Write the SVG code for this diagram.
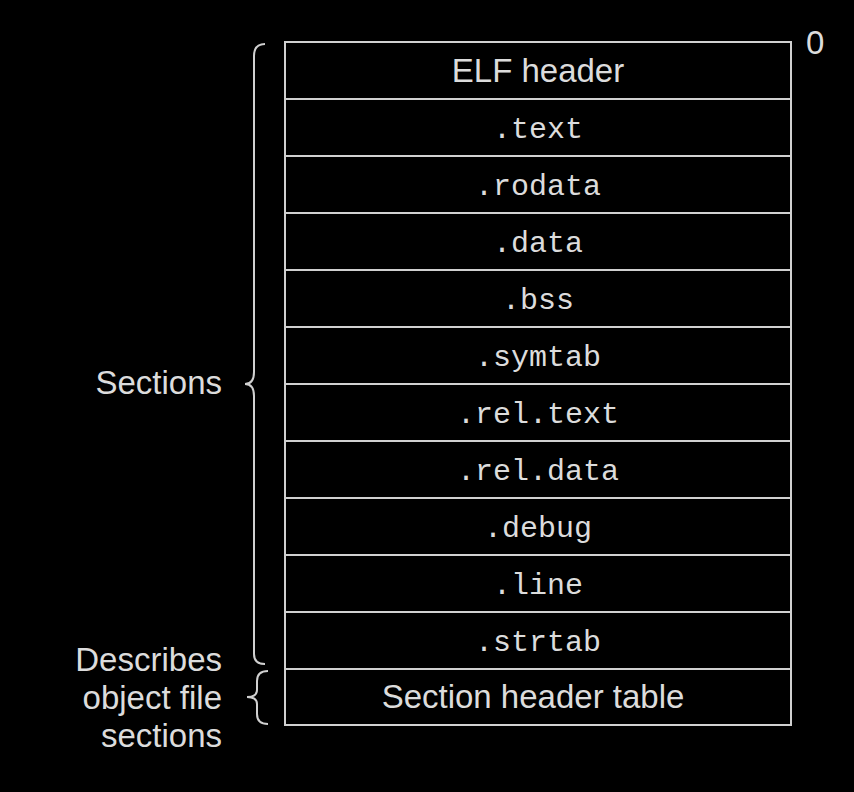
<svg xmlns="http://www.w3.org/2000/svg" width="854" height="792" viewBox="0 0 854 792">
<style>
.c{fill:none;stroke:#d0d0d0;stroke-width:2}
.m{font-family:"Liberation Mono",monospace;font-size:30px;fill:#dcdcdc;text-anchor:middle}
.s{font-family:"Liberation Sans",Arial,sans-serif;font-size:33px;fill:#dcdcdc}
</style>
<rect width="854" height="792" fill="#000"/>
<g id="table">
<rect class="c" x="285" y="42" width="506" height="683"/>
<path class="c" d="M285 99H791M285 156H791M285 213H791M285 270H791M285 327H791M285 384H791M285 441H791M285 498H791M285 555H791M285 612H791M285 669H791"/>
<text class="s" x="538" y="82" text-anchor="middle">ELF header</text>
<text class="m" x="538" y="138">.text</text>
<text class="m" x="538" y="195">.rodata</text>
<text class="m" x="538" y="252">.data</text>
<text class="m" x="538" y="309">.bss</text>
<text class="m" x="538" y="366">.symtab</text>
<text class="m" x="538" y="423">.rel.text</text>
<text class="m" x="538" y="480">.rel.data</text>
<text class="m" x="538" y="537">.debug</text>
<text class="m" x="538" y="594">.line</text>
<text class="m" x="538" y="651">.strtab</text>
<text class="s" x="533" y="708" text-anchor="middle">Section header table</text>
<text class="s" x="806" y="54">0</text>
</g>
<g id="braces">
<path class="c" d="M265 44Q254 44 254 56V372Q254 384 245 384Q254 384 254 396V654Q254 664 265 664"/>
<path class="c" d="M268 671Q257 671 257 681V690Q257 697 247 697Q257 697 257 704V714Q257 724 268 724"/>
</g>
<g id="labels">
<text class="s" x="222" y="394" text-anchor="end">Sections</text>
<text class="s" x="222" y="671" text-anchor="end">Describes</text>
<text class="s" x="222" y="709" text-anchor="end">object file</text>
<text class="s" x="222" y="747" text-anchor="end">sections</text>
</g>
</svg>
